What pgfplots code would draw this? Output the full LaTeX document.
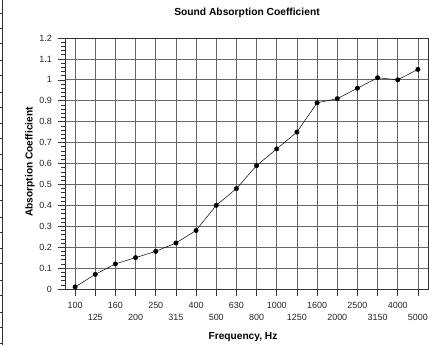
\documentclass[border=0pt]{standalone}
\usepackage{pgfplots}
\pgfplotsset{compat=1.18}
\usepackage{fontspec}
\setmainfont{Liberation Sans}
\begin{document}
\begin{tikzpicture}[x=1bp,y=1bp]
\path[use as bounding box] (0,0) rectangle (444,345);
% left-edge fragment
\draw[black!80,line width=0.8bp] (2.7,0) -- (2.7,345);
\foreach \yy in {2,18,33,50,65,82,97,113,128,145,160,176,191,207,222,238,253,270,285,302,317,332}
  \draw[black!80,line width=0.8bp] (0,\yy) -- (2.7,\yy);
\begin{axis}[
  at={(65bp,56bp)}, anchor=south west,
  scale only axis, width=363bp, height=251bp,
  xmin=-0.5, xmax=17.5, ymin=0, ymax=1.2,
  xtick={0,...,17},
  xticklabels={\strut 100,{\strut\\\strut 125},\strut 160,{\strut\\\strut 200},\strut 250,{\strut\\\strut 315},\strut 400,{\strut\\\strut 500},\strut 630,{\strut\\\strut 800},\strut 1000,{\strut\\\strut 1250},\strut 1600,{\strut\\\strut 2000},\strut 2500,{\strut\\\strut 3150},\strut 4000,{\strut\\\strut 5000}},
  xticklabel style={align=center, font=\fontsize{9}{12}\selectfont, inner sep=0bp, yshift=-3.5bp, text=black!85},
  ytick={0,0.1,...,1.21},
  yticklabels={0,0.1,0.2,0.3,0.4,0.5,0.6,0.7,0.8,0.9,1,1.1,1.2},
  yticklabel style={font=\fontsize{9}{10}\selectfont, inner sep=1bp, xshift=-5bp, text=black!85},
  minor y tick num=4,
  tick align=outside,
  xtick pos=bottom, ytick pos=left,
  major tick length=7bp, minor tick length=4bp,
  tick style={black!80, line width=0.6bp},
  grid=major,
  major grid style={black!60, line width=0.7bp},
  axis line style={black!80, line width=0.7bp},
  /pgf/number format/assume math mode=true,
]
\addplot[black, line width=0.5bp, mark=*, mark size=2.2bp] coordinates {
(0,0.01) (1,0.07) (2,0.12) (3,0.15) (4,0.18) (5,0.22) (6,0.28) (7,0.40) (8,0.48)
(9,0.59) (10,0.67) (11,0.75) (12,0.89) (13,0.91) (14,0.96) (15,1.01) (16,1.00) (17,1.05)};
\end{axis}
\node[font=\fontsize{10.3}{11}\selectfont\bfseries] at (247,332) {Sound Absorption Coefficient};
\node[font=\fontsize{10.2}{11}\selectfont\bfseries] at (243,8) {Frequency, Hz};
\node[font=\fontsize{10.2}{11}\selectfont\bfseries, rotate=90] at (30,183) {Absorption Coefficient};
\end{tikzpicture}
\end{document}
